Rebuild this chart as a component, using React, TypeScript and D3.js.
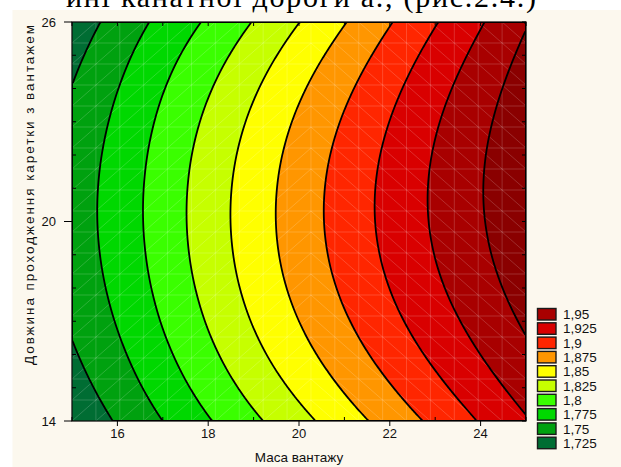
import React, { useMemo } from "react";
import * as d3 from "d3";

// fitted surface: z at mass 15..25 for three carriage lengths
const massGrid = [15, 16, 17, 18, 19, 20, 21, 22, 23, 24, 25];
const lengthGrid = [14, 20, 26];
const zAt14 = [1.7046, 1.7273, 1.75, 1.7731, 1.7955, 1.8171, 1.8387, 1.8599, 1.8807, 1.9017, 1.9227];
const zAt20 = [1.737, 1.7601, 1.7863, 1.8124, 1.8381, 1.8625, 1.8853, 1.9071, 1.9282, 1.948, 1.968];
const zAt26 = [1.71, 1.734, 1.7569, 1.7782, 1.8009, 1.8245, 1.8486, 1.8733, 1.8985, 1.9226, 1.948];

const levels = [1.725, 1.75, 1.775, 1.8, 1.825, 1.85, 1.875, 1.9, 1.925, 1.95];
const levelLabels = ["1,725", "1,75", "1,775", "1,8", "1,825", "1,85", "1,875", "1,9", "1,925", "1,95"];
const bandColors = ["#006d33", "#00a10f", "#00d800", "#3aff00", "#c6ff00", "#ffff00", "#ff9600", "#ff2600", "#d90000", "#a80000", "#8a0000"];

const massTicks = [16, 18, 20, 22, 24];
const massMinor = [15, 16, 17, 18, 19, 20, 21, 22, 23, 24, 25];
const lengthTicks = [14, 20, 26];
const lengthMinor = [14, 15, 16, 17, 18, 19, 20, 21, 22, 23, 24, 25, 26];

const W = 621, H = 467;
const plot = { left: 72, right: 526, top: 22, bottom: 421 };
const font = "'Liberation Sans', Arial, sans-serif";

export default function App() {
  const x = d3.scaleLinear().domain([15, 25]).range([plot.left, plot.right]);
  const y = d3.scaleLinear().domain([14, 26]).range([plot.bottom, plot.top]);

  const bands = useMemo(() => {
    const nx = 227, ny = 200;
    const rows = [zAt14, zAt20, zAt26].map((r) => d3.interpolateBasis(r));
    const tx = d3.scaleLinear().domain([massGrid[0], massGrid[massGrid.length - 1]]).range([0, 1]);
    const field = (m: number, l: number) => {
      const r = rows.map((f) => f(tx(m)));
      let z = 0;
      lengthGrid.forEach((yk, k) => {
        let L = 1;
        lengthGrid.forEach((ym, j) => { if (j !== k) L *= (l - ym) / (yk - ym); });
        z += r[k] * L;
      });
      return z;
    };
    const gx = d3.scaleLinear().domain([0, nx]).range([15, 25]);
    const gy = d3.scaleLinear().domain([0, ny]).range([26, 14]);
    const values = new Array(nx * ny);
    for (let j = 0; j < ny; j++)
      for (let i = 0; i < nx; i++) values[j * nx + i] = field(gx(i + 0.5), gy(j + 0.5));
    const contours = d3.contours().size([nx, ny]).thresholds(levels)(values);
    const proj = d3.geoTransform({
      point(px: number, py: number) { (this as any).stream.point(x(gx(px)), y(gy(py))); },
    });
    const path = d3.geoPath(proj);
    return contours.map((c) => path(c as any) || "");
  }, []);

  // faint triangulation mesh of the surface
  const mesh = useMemo(() => {
    const n = 19;
    const cx = d3.scaleLinear().domain([0, n]).range([plot.left, plot.right]);
    const cy = d3.scaleLinear().domain([0, n]).range([plot.top, plot.bottom]);
    const p = d3.path();
    for (let k = 0; k <= n; k++) {
      p.moveTo(cx(k), plot.top); p.lineTo(cx(k), plot.bottom);
      p.moveTo(plot.left, cy(k)); p.lineTo(plot.right, cy(k));
    }
    for (let c = 0; c < n; c++)
      for (let r = 0; r < n; r++) {
        if (c < 10) { p.moveTo(cx(c), cy(r + 1)); p.lineTo(cx(c + 1), cy(r)); }
        else { p.moveTo(cx(c), cy(r)); p.lineTo(cx(c + 1), cy(r + 1)); }
      }
    return p.toString();
  }, []);

  const legendTop = 308.5, legendStep = 14.3;

  return (
    <svg width={W} height={H} style={{ position: "absolute", left: 0, top: 0, background: "#ffffff" }}>
      <rect x={12.5} y={10} width={W - 12.5} height={H - 10} fill="#fcf8ee" />
      <text x={66} y={7} fontFamily="'Liberation Serif', 'Times New Roman', serif" fontSize={30}
        textLength={470} lengthAdjust="spacing" fill="#000">
        ині канатної дороги а., (рис.2.4.)
      </text>

      <defs>
        <clipPath id="plotClip">
          <rect x={plot.left} y={plot.top} width={plot.right - plot.left} height={plot.bottom - plot.top} />
        </clipPath>
      </defs>

      <g clipPath="url(#plotClip)">
        <rect x={plot.left} y={plot.top} width={plot.right - plot.left} height={plot.bottom - plot.top} fill={bandColors[0]} />
        {bands.map((d, i) => <path key={"b" + i} d={d} fill={bandColors[i + 1]} />)}
        <path d={mesh} stroke="#ffffff" strokeOpacity={0.25} strokeWidth={0.7} fill="none" />
        {bands.map((d, i) => (
          <path key={"l" + i} d={d} fill="none" stroke="#000" strokeWidth={1.8} strokeLinejoin="round" />
        ))}
      </g>
      <rect x={plot.left} y={plot.top} width={plot.right - plot.left} height={plot.bottom - plot.top}
        fill="none" stroke="#000" strokeWidth={1.2} />

      {/* x ticks */}
      {massMinor.map((v) => (
        <g key={"xm" + v}>
          <line x1={x(v)} x2={x(v)} y1={plot.top} y2={plot.top + 4} stroke="#000" />
          {massTicks.includes(v)
            ? <line x1={x(v)} x2={x(v)} y1={plot.bottom} y2={plot.bottom + 5} stroke="#000" />
            : <line x1={x(v)} x2={x(v)} y1={plot.bottom} y2={plot.bottom - 4} stroke="#000" />}
        </g>
      ))}
      {massTicks.map((v) => (
        <text key={"xt" + v} x={x(v)} y={438} textAnchor="middle" fontFamily={font} fontSize={13} fill="#111">{v}</text>
      ))}

      {/* y ticks */}
      {lengthMinor.map((v) => (
        <g key={"ym" + v}>
          <line x1={plot.right} x2={plot.right - 4} y1={y(v)} y2={y(v)} stroke="#000" />
          {lengthTicks.includes(v)
            ? <line x1={plot.left} x2={plot.left - 8} y1={y(v)} y2={y(v)} stroke="#000" />
            : <line x1={plot.left} x2={plot.left + 4} y1={y(v)} y2={y(v)} stroke="#000" />}
        </g>
      ))}
      {lengthTicks.map((v) => (
        <text key={"yt" + v} x={56} y={y(v)} dy="0.36em" textAnchor="end" fontFamily={font} fontSize={13} fill="#111">{v}</text>
      ))}

      <text x={x(20)} y={462} textAnchor="middle" fontFamily={font} fontSize={13.5} fill="#111">Маса вантажу</text>
      <text transform={`translate(33.5,195) rotate(-90)`} textAnchor="middle" fontFamily={font} fontSize={13.5}
        textLength={340} lengthAdjust="spacing" fill="#111">
        Довжина проходження каретки з вантажем
      </text>

      {/* legend */}
      {levelLabels.slice().reverse().map((lab, k) => {
        const i = levels.length - 1 - k;
        const top = legendTop + k * legendStep;
        return (
          <g key={"lg" + lab}>
            <rect x={537.5} y={top} width={18.5} height={11.5} fill={bandColors[i]} stroke="#1a1a1a" strokeWidth={1.4} />
            <text x={563} y={top + 5.75} dy="0.36em" fontFamily={font} fontSize={13.5} fill="#111">{lab}</text>
          </g>
        );
      })}
    </svg>
  );
}
